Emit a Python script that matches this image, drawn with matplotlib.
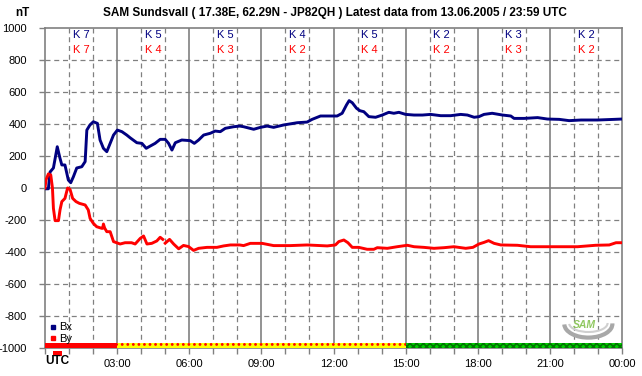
import numpy as np
import matplotlib
matplotlib.use("Agg")
import matplotlib.pyplot as plt
from matplotlib.patches import Rectangle, Arc
from matplotlib.lines import Line2D

plt.rcParams['font.family'] = ['Liberation Sans', 'DejaVu Sans']

# Bx component (hours UTC, nT)
bx_hours = [0.0, 0.14, 0.21, 0.35, 0.51, 0.62, 0.7, 0.83, 0.97, 1.07, 1.18, 1.32, 1.53,
            1.67, 1.74, 1.87, 2.01, 2.18, 2.29, 2.43, 2.57, 2.74, 2.85, 3.01, 3.2, 3.4,
            3.54, 3.82, 4.03, 4.21, 4.375, 4.58, 4.79, 5.0, 5.14, 5.28, 5.42, 5.69, 6.04,
            6.21, 6.39, 6.6, 6.875, 7.08, 7.29, 7.5, 7.71, 7.85, 8.1, 8.26, 8.68, 8.96,
            9.24, 9.51, 9.93, 10.49, 10.9, 11.11, 11.46, 11.74, 12.15, 12.36, 12.54, 12.65,
            12.78, 12.96, 13.1, 13.26, 13.47, 13.75, 14.03, 14.3, 14.51, 14.72, 15.0, 15.35,
            15.7, 16.04, 16.46, 16.875, 17.29, 17.57, 17.85, 18.05, 18.26, 18.6, 19.03,
            19.375, 19.51, 19.93, 20.49, 20.9, 21.39, 21.8, 22.3, 22.99, 23.68, 24.0]
bx_nt = [-5, -5, 100, 125, 258, 188, 144, 144, 50, 33, 70, 125, 133,
         165, 362, 394, 414, 404, 300, 248, 227, 290, 331, 362, 352, 331,
         314, 283, 279, 248, 262, 279, 304, 304, 279, 237, 283, 300, 296,
         279, 300, 331, 342, 356, 352, 373, 379, 383, 387, 383, 367, 379,
         387, 379, 394, 408, 412, 429, 450, 450, 450, 467, 519, 546,
         533, 498, 483, 477, 446, 442, 456, 473, 467, 473, 460, 456,
         456, 460, 452, 452, 460, 456, 442, 446, 460, 467, 456,
         450, 435, 435, 440, 431, 429, 421, 425, 425, 429, 431]

# By component (hours UTC, nT), one short gap in the record
by_hours = [0.0, 0.04, 0.14, 0.24, 0.31, 0.35, 0.42, 0.56, 0.625, 0.7, 0.83, 0.94, 1.04,
            1.15, 1.29, 1.43, 1.67, 1.8, 1.875, 2.01, 2.15, 2.36, 2.4, 2.43, 2.48, 2.57,
            2.71, 2.85, 3.125, 3.33, 3.6, 3.75, 3.96, 4.1, 4.24, 4.44, 4.65, 4.79, 4.9,
            4.95, 5.0, 5.18, 5.35, 5.56, 5.76, 5.97, 6.18, 6.39, 6.74, 7.15, 7.43, 7.71,
            8.1, 8.26, 8.54, 9.03, 9.51, 10.2, 10.9, 11.74, 12.08, 12.22, 12.43, 12.6,
            12.78, 13.05, 13.4, 13.68, 13.82, 14.24, 14.65, 15.07, 15.35, 15.76, 16.18,
            16.6, 17.01, 17.5, 17.8, 18.05, 18.26, 18.45, 18.68, 18.96, 19.65, 20.2,
            21.18, 22.15, 22.9, 23.47, 23.75, 24.0]
by_nt = [0, 50, 88, 81, 0, -127, -204, -204, -137, -85, -65, 0, -8,
         -65, -85, -96, -106, -137, -190, -221, -242, -252, -252, -225, -250, -273,
         -273, -335, -350, -342, -342, -350, -315, -300, -350, -346, -331, -308, -321,
         np.nan, -345, -321, -350, -380, -359, -366, -390, -377, -371, -371, -362, -356,
         -356, -360, -346, -346, -360, -360, -356, -362, -356, -335, -325, -342,
         -371, -371, -383, -383, -373, -377, -367, -358, -367, -371, -377,
         -373, -367, -377, -371, -350, -340, -329, -346, -356, -358, -367,
         -367, -367, -358, -356, -342, -342]

# K indices per 3-hour block
k_bx = [7, 5, 5, 4, 5, 2, 3, 2]
k_by = [7, 4, 3, 2, 4, 2, 3, 2]

# activity bar segments (start hour, end hour, face, hatch colour, hatch)
bar_start = [0, 3, 15]
bar_end = [3, 15, 24]
bar_face = ['#ff0000', '#ffff00', '#00cc00']
bar_hatch_color = ['#ff0000', '#ff0000', '#007700']
bar_hatch = ['', '...', 'xxxxx']

tick_hours = [0, 3, 6, 9, 12, 15, 18, 21, 24]
tick_labels = ['', '03:00', '06:00', '09:00', '12:00', '15:00', '18:00', '21:00', '00:00']

BLUE = '#000080'
RED = '#ff0000'
GRID = '#808080'

plt.rcParams['hatch.linewidth'] = 1.2

fig = plt.figure(figsize=(6.42, 3.76), dpi=100)
ax = fig.add_axes([45 / 642, 28 / 376, 577 / 642, 320 / 376])

ax.set_xlim(0, 24)
ax.set_ylim(-1000, 1000)

# grid
for h in range(1, 24):
    if h % 3 == 0:
        ax.axvline(h, color=GRID, lw=1.2, zorder=1)
    else:
        ax.axvline(h, color=GRID, lw=0.9, ls=(0, (4, 3)), zorder=1)
for v in range(-800, 1000, 200):
    if v == 0:
        ax.axhline(v, color=GRID, lw=1.2, zorder=1)
    else:
        ax.axhline(v, color=GRID, lw=0.9, ls=(0, (4, 3)), zorder=1)

ax.plot(bx_hours, bx_nt, color=BLUE, lw=2.1, zorder=3)
ax.plot(by_hours, by_nt, color=RED, lw=2.1, zorder=3)

# K index labels, centred on the middle hour of each block
for i, (kb, kr) in enumerate(zip(k_bx, k_by)):
    xc = 3 * i + 1.5
    ax.text(xc, 955, f'K {kb}', color=BLUE, fontsize=8, ha='center', va='center', zorder=4)
    ax.text(xc, 862, f'K {kr}', color=RED, fontsize=8, ha='center', va='center', zorder=4)

# activity bar at the bottom
for s, e, fc, hc, hp in zip(bar_start, bar_end, bar_face, bar_hatch_color, bar_hatch):
    ax.add_patch(Rectangle((s, -1000), e - s, 32, facecolor=fc, edgecolor=hc,
                           hatch=hp, lw=0, zorder=5))
ax.add_patch(Rectangle((0.33, -1050), 0.38, 31, facecolor=RED, edgecolor='none',
                       clip_on=False, zorder=5))

# legend
ax.legend(handles=[Line2D([], [], marker='s', ls='', color=BLUE, markersize=3),
                   Line2D([], [], marker='s', ls='', color=RED, markersize=3)],
          labels=['Bx', 'By'], loc='lower left', bbox_to_anchor=(-0.005, -0.012),
          frameon=False, fontsize=8, handlelength=0.6, handletextpad=0.2,
          labelspacing=0.15, borderpad=0.2)

# small logo: grey crescent swoosh with green lettering
ax.add_patch(Arc((22.6, -850), 2.0, 170, theta1=-110, theta2=75, color='#a8a8a8',
                 lw=3, zorder=2))
ax.add_patch(Arc((22.6, -845), 1.6, 110, theta1=-100, theta2=60, color='#d0d0d0',
                 lw=1.5, zorder=2))
ax.text(22.45, -858, 'SAM', color='#90c860', fontsize=7.5, style='italic', fontweight='bold',
        ha='center', va='center', zorder=2)

# axes styling
for sp in ax.spines.values():
    sp.set_color(GRID)
    sp.set_linewidth(1.2)
ax.set_yticks(range(-1000, 1001, 200))
ax.set_yticklabels([str(v) for v in range(-1000, 1001, 200)])
ax.set_xticks(tick_hours)
ax.set_xticklabels(tick_labels)
ax.set_xticks(range(25), minor=True)
ax.tick_params(axis='both', which='both', color=GRID, labelsize=8, length=4, width=1)
ax.tick_params(axis='y', pad=9)
ax.tick_params(axis='x', pad=4)

fig.text(45 / 642, 1 - 361 / 376, 'UTC', fontsize=8.5, fontweight='bold', ha='left', va='center')
fig.text(22 / 642, 1 - 13 / 376, 'nT', fontsize=8.5, fontweight='bold', ha='center', va='center')
fig.text(335 / 642, 1 - 13 / 376,
         'SAM Sundsvall ( 17.38E, 62.29N - JP82QH ) Latest data from 13.06.2005 / 23:59 UTC',
         fontsize=8.5, fontweight='bold', ha='center', va='center')

fig.savefig('out.png', dpi=100)
